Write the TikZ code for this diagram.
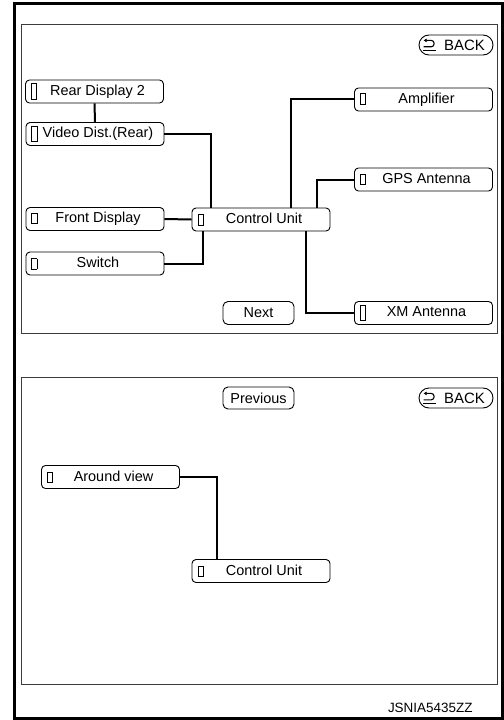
\documentclass[tikz,border=0pt]{standalone}
\usepackage{fontspec}
\setmainfont{Liberation Sans}
\usetikzlibrary{arrows.meta,shapes.misc}
\definecolor{panelGray}{RGB}{60,60,60}
\newcommand{\pinS}{\raisebox{-0.6bp}{\setlength{\fboxsep}{0pt}\setlength{\fboxrule}{0.9bp}\fbox{\rule{0pt}{9.5bp}\hspace{4.2bp}}}}
\newcommand{\pinT}{\raisebox{-3.4bp}{\setlength{\fboxsep}{0pt}\setlength{\fboxrule}{0.9bp}\fbox{\rule{0pt}{14.5bp}\hspace{4.2bp}}}}
\newcommand{\unitlabel}[2]{\hbox to 127bp{#1\hfill #2\hfill}}

\begin{document}
\begin{tikzpicture}[x=1bp,y=-1bp,
    unitbox/.style={draw, rounded corners=4bp, line width=0.9bp, minimum width=138bp,
        minimum height=23bp, inner xsep=5bp, inner ysep=0pt, font=\fontsize{14.5}{16}\selectfont},
    softbtn/.style={draw, rounded corners=5bp, line width=0.9bp, minimum width=71bp,
        minimum height=23bp, inner sep=0pt, font=\fontsize{14.5}{16}\selectfont},
    backbtn/.style={draw, rounded rectangle, line width=0.9bp, minimum width=74bp,
        minimum height=20bp, inner sep=0pt, font=\fontsize{15}{16}\selectfont},
    backicon/.style={line width=1.1bp, rounded corners=2.8bp, -{Latex[length=3bp,width=4bp]}},
    link/.style={line width=2bp}]
    \useasboundingbox (0,0) rectangle (504,720);

    % frames
    \draw[line width=3bp] (14.5,4) rectangle (502.5,718.5);
    \draw[panelGray, line width=1bp] (21,24.5) rectangle (497,333);
    \draw[panelGray, line width=1bp] (21,377) rectangle (497,684);

    % upper screen
    \node[unitbox] (rd2) at (94.5,91.5) {\unitlabel{\pinT}{Rear Display 2}};
    \node[unitbox] (vd)  at (95,134)    {\unitlabel{\pinT}{Video Dist.(Rear)}};
    \node[unitbox] (fd)  at (95,219)    {\unitlabel{\pinS}{Front Display}};
    \node[unitbox] (sw)  at (95,263.5)  {\unitlabel{\pinS}{Switch}};
    \node[unitbox] (cu)  at (261,219.5) {\unitlabel{\pinS}{Control Unit}};
    \node[unitbox] (amp) at (423.5,99.5) {\unitlabel{\pinS}{Amplifier}};
    \node[unitbox] (gps) at (423.5,179.5) {\unitlabel{\pinS}{GPS Antenna}};
    \node[unitbox] (xm)  at (423.5,313) {\unitlabel{\pinT}{XM Antenna}};
    \node[softbtn] (next) at (258.5,313) {Next};
    \node[backbtn] (backA) at (456,45) {\hspace{17bp}BACK};

    \draw[link] (rd2.south) -- (vd.north);
    \draw[link] (vd.east) -| ([xshift=19bp]cu.north west);
    \draw[link] (amp.west) -| ([xshift=99bp]cu.north west);
    \draw[link] (gps.west) -| ([xshift=125bp]cu.north west);
    \draw[link] (fd.east) -- (cu.west);
    \draw[link] (sw.east) -| ([xshift=11bp]cu.south west);
    \draw[link] ([xshift=114bp]cu.south west) |- (xm.west);

    % lower screen
    \node[softbtn, minimum height=22bp] (prev) at (258.5,398) {Previous};
    \node[backbtn] (backB) at (456,398) {\hspace{17bp}BACK};
    \node[unitbox] (av)  at (110.5,477) {\unitlabel{\pinS}{Around view}};
    \node[unitbox] (cu2) at (261,571)   {\unitlabel{\pinS}{Control Unit}};

    \draw[link] (av.east) -| ([xshift=25bp]cu2.north west);

    % back icons
    \foreach \b in {backA,backB} {
        \draw[backicon] ([shift={(5,1.8)}]\b.west) -- ++(10.5,0) -- ++(0,-6.4) -- ++(-10.5,0);
        \draw[line width=1.1bp] ([shift={(4.5,5.2)}]\b.west) -- ++(13,0);
    }

    \node[anchor=east, font=\fontsize{13.5}{15}\selectfont] (figid) at (476,708) {JSNIA5435ZZ};
\end{tikzpicture}
\end{document}
